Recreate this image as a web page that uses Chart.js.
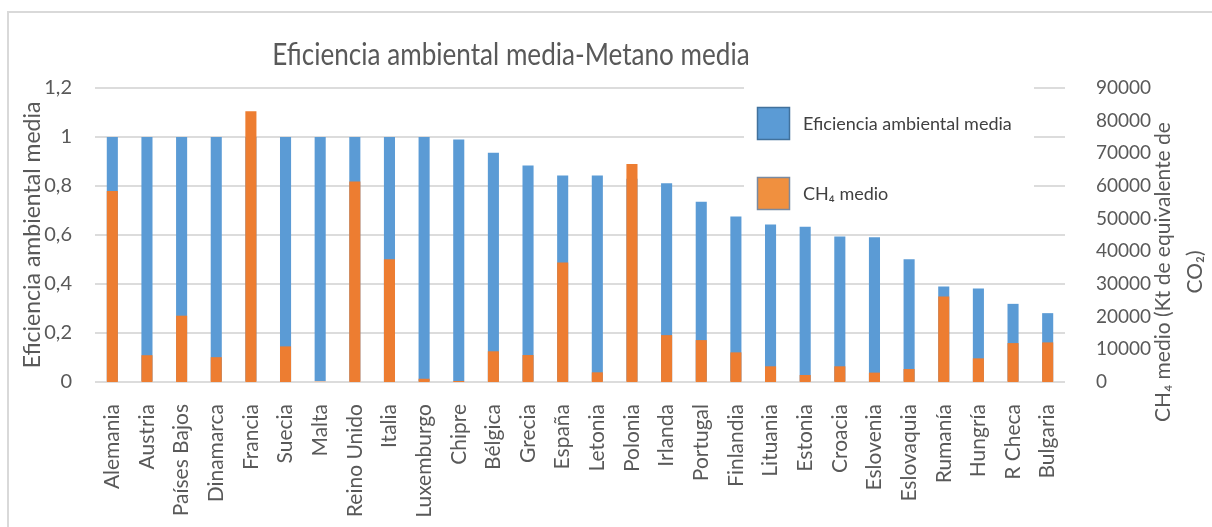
<!DOCTYPE html>
<html>
<head>
<meta charset="utf-8">
<script src="https://cdn.jsdelivr.net/npm/chart.js@4/dist/chart.umd.min.js"></script>
<style>
  html, body { margin: 0; padding: 0; background: #fff; }
  #wrap { position: relative; width: 1212px; height: 527px; }
</style>
</head>
<body>
<div id="wrap"><canvas id="grafico"></canvas></div>
<script>
// datos
var paises = ['Alemania', 'Austria', 'Países Bajos', 'Dinamarca', 'Francia', 'Suecia', 'Malta',
	'Reino Unido', 'Italia', 'Luxemburgo', 'Chipre', 'Bélgica', 'Grecia', 'España', 'Letonia',
	'Polonia', 'Irlanda', 'Portugal', 'Finlandia', 'Lituania', 'Estonia', 'Croacia', 'Eslovenia',
	'Eslovaquia', 'Rumanía', 'Hungría', 'R Checa', 'Bulgaria']
var eficiencia = [1, 1, 1, 1, 1, 1, 1, 1, 1, 1, 0.99, 0.936, 0.884, 0.843, 0.843, 0.83, 0.811,
	0.736, 0.676, 0.643, 0.634, 0.594, 0.591, 0.501, 0.39, 0.382, 0.319, 0.281]
var metano = [58500, 8200, 20300, 7600, 82900, 10900, 80, 61400, 37600, 1000, 300, 9400, 8250,
	36550, 2960, 66700, 14350, 12830, 9070, 4800, 2140, 4800, 2870, 3970, 26170, 7240, 11910, 12120]

var titulo = 'Eficiencia ambiental media-Metano media'
var tituloIzq = 'Eficiencia ambiental media'
var tituloDer = ['CH\u2084 medio (Kt de equivalente de', 'CO\u2082)']
var serieAzul = 'Eficiencia ambiental media'
var serieNaranja = 'CH\u2084 medio'

var AZUL = '#5b9bd5', NARANJA = '#ed7d31', GRIS = '#595959', REJILLA = '#dcdcdc'
var FUENTE = 'Lato, "Open Sans", sans-serif'

var extras = {
	id: 'extras'
	, beforeDraw: function (chart) {
		var ctx = chart.ctx
		ctx.save()
		ctx.strokeStyle = '#d9d9d9'
		ctx.lineWidth = 2
		ctx.beginPath()
		ctx.moveTo(8, 530)
		ctx.lineTo(8, 12)
		ctx.lineTo(1215, 12)
		ctx.stroke()
		ctx.restore()
	}
	, beforeDatasetsDraw: function (chart) {
		var ctx = chart.ctx
		ctx.save()
		// fondo de la leyenda tapa la rejilla
		ctx.fillStyle = '#fff'
		ctx.fillRect(744, 80, 290, 134)
		var items = [[serieAzul, AZUL, '#41719c', 107], [serieNaranja, '#f0903f', '#7a8aa0', 177]]
		items.forEach(function (it) {
			ctx.fillStyle = it[1]
			ctx.fillRect(757, it[3], 33, 33)
			ctx.strokeStyle = it[2]
			ctx.lineWidth = 1.5
			ctx.strokeRect(757.5, it[3] + 0.5, 32, 32)
			ctx.fillStyle = '#404040'
			ctx.font = '18px ' + FUENTE
			ctx.textBaseline = 'middle'
			ctx.textAlign = 'left'
			ctx.fillText(it[0], 803, it[3] + 17)
		})
		ctx.restore()
	}
	, afterDraw: function (chart) {
		var ctx = chart.ctx
		ctx.save()
		ctx.fillStyle = GRIS
		ctx.textAlign = 'center'
		ctx.textBaseline = 'middle'
		ctx.save()
		ctx.translate(511, 55)
		ctx.scale(0.87, 1)
		ctx.font = '30px ' + FUENTE
		ctx.fillText(titulo, 0, 0)
		ctx.restore()
		ctx.font = '21px ' + FUENTE
		ctx.translate(1163, 272)
		ctx.rotate(-Math.PI / 2)
		ctx.fillText(tituloDer[0], 0, 0)
		ctx.fillText(tituloDer[1], 0, 32)
		ctx.restore()
	}
}

new Chart(document.getElementById('grafico'), {
	type: 'bar'
	, data: {
		labels: paises
		, datasets: [
			{ label: serieNaranja, data: metano, yAxisID: 'y2', backgroundColor: NARANJA, order: 0, grouped: false, barPercentage: 0.32, categoryPercentage: 1 }
			, { label: serieAzul, data: eficiencia, yAxisID: 'y', backgroundColor: AZUL, order: 1, grouped: false, barPercentage: 0.32, categoryPercentage: 1 }
		]
	}
	, options: {
		responsive: true
		, maintainAspectRatio: false
		, animation: false
		, layout: { padding: { top: 88, left: 0, right: 0, bottom: 0 } }
		, plugins: { legend: { display: false }, title: { display: false }, tooltip: { enabled: false } }
		, scales: {
			x: {
				grid: { display: false }
				, border: { display: false }
				, ticks: { color: GRIS, font: { family: FUENTE, size: 21 }, minRotation: 90, maxRotation: 90, padding: 14, autoSkip: false }
				, afterFit: function (s) { s.height = 145 }
			}
			, y: {
				position: 'left'
				, min: 0, max: 1.2
				, grid: { color: REJILLA, lineWidth: 2, drawTicks: false }
				, border: { display: false }
				, ticks: {
					stepSize: 0.2, color: GRIS, font: { family: FUENTE, size: 20 }, padding: 23
					, callback: function (v) { return String(Math.round(v * 10) / 10).replace('.', ',') }
				}
				, title: { display: true, text: tituloIzq, color: GRIS, font: { family: FUENTE, size: 23 }, padding: { top: 19, bottom: 0 } }
				, afterFit: function (s) { s.width = 95 }
			}
			, y2: {
				position: 'right'
				, min: 0, max: 90000
				, grid: { display: false }
				, border: { display: false }
				, ticks: {
					stepSize: 10000, color: GRIS, font: { family: FUENTE, size: 19 }, padding: 23
					, callback: function (v) { return String(v) }
				}
				, afterFit: function (s) { s.width = 147 }
			}
		}
	}
	, plugins: [extras]
})
</script>
</body>
</html>
